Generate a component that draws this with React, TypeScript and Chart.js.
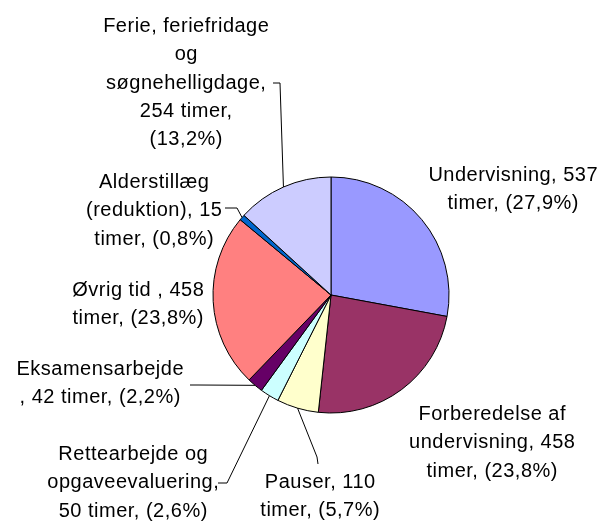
import React, { useEffect, useRef } from "react";
import { Chart, registerables } from "chart.js";

Chart.register(...registerables);

const categories = [
  "Undervisning",
  "Forberedelse af undervisning",
  "Pauser",
  "Rettearbejde og opgaveevaluering",
  "Eksamensarbejde",
  "Øvrig tid",
  "Alderstillæg (reduktion)",
  "Ferie, feriefridage og søgnehelligdage",
];
const hours = [537, 458, 110, 50, 42, 458, 15, 254];
const percentLabels = ["27,9%", "23,8%", "5,7%", "2,6%", "2,2%", "23,8%", "0,8%", "13,2%"];
const labelLines = [
  ["Undervisning, 537", "timer, (27,9%)"],
  ["Forberedelse af", "undervisning, 458", "timer, (23,8%)"],
  ["Pauser, 110", "timer, (5,7%)"],
  ["Rettearbejde og", "opgaveevaluering,", "50 timer, (2,6%)"],
  ["Eksamensarbejde", ", 42 timer, (2,2%)"],
  ["Øvrig tid , 458", "timer, (23,8%)"],
  ["Alderstillæg", "(reduktion), 15", "timer, (0,8%)"],
  ["Ferie, feriefridage", "og", "søgnehelligdage,", "254 timer,", "(13,2%)"],
];
const colors = ["#9999FF", "#993366", "#FFFFCC", "#CCFFFF", "#660066", "#FF8080", "#0066CC", "#CCCCFF"];

// label layout relative to pie centre: text centre x, first baseline y, optional leader start & elbow
type Layout = { dx: number; dy: number; leader?: [number, number, number, number] };
const labelLayout: Layout[] = [
  { dx: 182, dy: -114.5 },
  { dx: 161, dy: 125 },
  { dx: -11, dy: 193, leader: [-13, 169, -14, 162] },
  { dx: -198, dy: 165, leader: [-113, 188, -104, 188] },
  { dx: -231, dy: 80, leader: [-141, 90, -133, 90] },
  { dx: -193, dy: 1 },
  { dx: -177, dy: -107, leader: [-106, -87, -94, -87] },
  { dx: -145, dy: -263, leader: [-58, -212, -51, -212] },
];
const LINE_HEIGHT = 28.3;

const labelPlugin = {
  id: "pieLabels",
  afterDraw(chart: any) {
    const ctx = chart.ctx as CanvasRenderingContext2D;
    const meta = chart.getDatasetMeta(0);
    ctx.save();
    ctx.font = "20px 'Liberation Sans', Arial, sans-serif";
    try {
      (ctx as any).letterSpacing = "0.5px";
    } catch (e) {}
    ctx.fillStyle = "#000";
    ctx.textAlign = "center";
    ctx.textBaseline = "alphabetic";
    meta.data.forEach((arc: any, i: number) => {
      const { x, y, startAngle, endAngle, outerRadius } = arc.getProps(
        ["x", "y", "startAngle", "endAngle", "outerRadius"],
        true
      );
      const lay = labelLayout[i];
      const lines = labelLines[i];
      lines.forEach((t, j) => {
        ctx.fillText(t, x + lay.dx + 0.25, y + lay.dy + j * LINE_HEIGHT);
      });
      if (lay.leader) {
        const mid = (startAngle + endAngle) / 2;
        const px = x + Math.cos(mid) * outerRadius;
        const py = y + Math.sin(mid) * outerRadius;
        const [sx, sy, ex, ey] = lay.leader;
        ctx.beginPath();
        ctx.strokeStyle = "#000";
        ctx.lineWidth = 1;
        ctx.moveTo(x + sx, y + sy);
        ctx.lineTo(x + ex, y + ey);
        ctx.lineTo(px, py);
        ctx.stroke();
      }
    });
    ctx.restore();
  },
};

export default function App() {
  const ref = useRef<HTMLCanvasElement>(null);
  useEffect(() => {
    if (!ref.current) return;
    const chart = new Chart(ref.current, {
      type: "pie",
      data: {
        labels: categories,
        datasets: [
          {
            data: hours,
            backgroundColor: colors,
            borderColor: "#000",
            borderWidth: 1,
            radius: 118,
          } as any,
        ],
      },
      options: {
        animation: false,
        responsive: true,
        maintainAspectRatio: false,
        events: [],
        layout: { padding: { left: 213, right: 152, top: 177, bottom: 109 } },
        plugins: {
          legend: { display: false },
          tooltip: { enabled: false },
          title: { display: false },
        },
      },
      plugins: [labelPlugin],
    });
    return () => chart.destroy();
  }, []);
  return (
    <div style={{ position: "absolute", left: 0, top: 0, width: 601, height: 522, background: "#fff" }}>
      <canvas ref={ref} />
    </div>
  );
}
